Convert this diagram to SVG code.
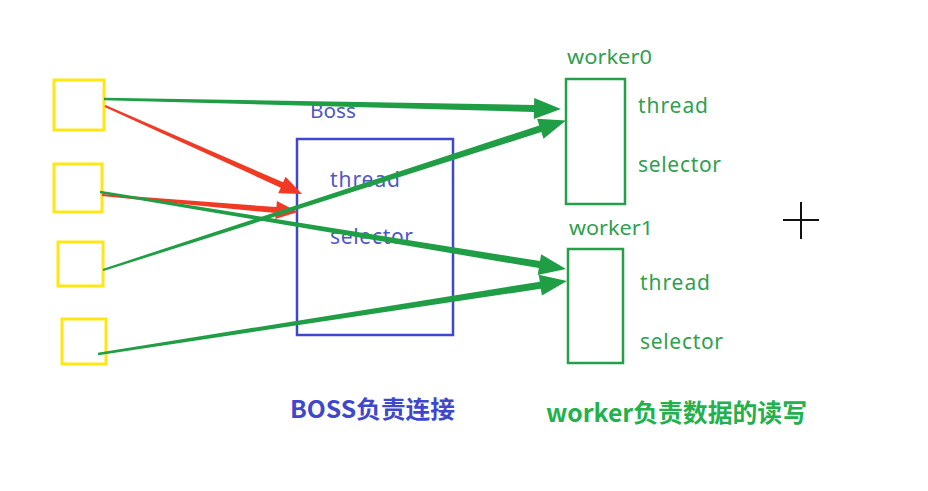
<svg xmlns="http://www.w3.org/2000/svg" width="928" height="491" viewBox="0 0 928 491">
<style>
.yel{fill:none;stroke:#ffe614;stroke-width:3}
.grnbox{fill:none;stroke:#23a048;stroke-width:2.5}
.bluebox{fill:none;stroke:#3f48cc;stroke-width:2.5}
.g{fill:#1f9e45}
.r{fill:#f03a24}
.lb{font-family:"Noto Sans","Noto Sans CJK SC",sans-serif;fill:#5056c4}
.lg{font-family:"Noto Sans","Noto Sans CJK SC",sans-serif;fill:#2f9f50}
.cap{font-family:"Noto Sans CJK SC","Noto Sans",sans-serif;font-weight:bold}
</style>
<rect width="928" height="491" fill="#ffffff"/>
<g id="src1"><rect class="yel" x="54" y="80" width="50" height="50"/></g>
<g id="src2"><rect class="yel" x="54" y="164" width="48" height="48"/></g>
<g id="src3"><rect class="yel" x="58" y="242" width="45" height="44"/></g>
<g id="src4"><rect class="yel" x="62" y="319" width="44" height="45"/></g>
<g id="boss">
<rect class="bluebox" x="297" y="139" width="156" height="196"/>
<text class="lb" x="310" y="118" font-size="20" textLength="46" lengthAdjust="spacingAndGlyphs">Boss</text>
<text class="lb" x="330" y="187" font-size="21" textLength="70" lengthAdjust="spacing">thread</text>
<text class="lb" x="330" y="244" font-size="21" textLength="83" lengthAdjust="spacing">selector</text>
</g>
<g id="worker0">
<rect class="grnbox" x="566" y="79" width="59" height="125"/>
<text class="lg" x="567" y="64" font-size="20" textLength="85" lengthAdjust="spacingAndGlyphs">worker0</text>
<text class="lg" x="638" y="113" font-size="21" textLength="70" lengthAdjust="spacing">thread</text>
<text class="lg" x="638" y="172" font-size="21" textLength="83" lengthAdjust="spacing">selector</text>
</g>
<g id="worker1">
<rect class="grnbox" x="568" y="249" width="55" height="114"/>
<text class="lg" x="569" y="235" font-size="20" textLength="84" lengthAdjust="spacingAndGlyphs">worker1</text>
<text class="lg" x="640" y="290" font-size="21" textLength="70" lengthAdjust="spacing">thread</text>
<text class="lg" x="640" y="349" font-size="21" textLength="83" lengthAdjust="spacing">selector</text>
</g>
<g id="connectors">
<polygon class="r" points="105.4,105.1 283.1,182.3 285.6,176.8 302,194 278.2,193.2 280.7,187.7 104.6,106.9"/>
<polygon class="r" points="102.1,194 276.4,207.1 276.9,201.1 298,212 275.3,219.1 275.8,213.1 101.9,196"/>
<polygon class="g" points="104,97.8 534.1,104.9 534.2,97.9 561,109 533.8,118.9 533.9,111.9 104,100.2"/>
<polygon class="g" points="102.6,268.9 539.2,125.5 537.1,118.8 566,120.5 543.5,138.8 541.4,132.1 103.4,271.1"/>
<polygon class="g" points="100.2,190.8 540,261.1 541.1,254.2 566,269 537.7,275 538.8,268.1 99.8,193.2"/>
<polygon class="g" points="97.8,352.8 539.8,281.7 538.7,274.8 567,281 541.9,295.6 540.8,288.7 98.2,355.2"/>
</g>
<g id="cursor" stroke="#111111" stroke-width="2">
<line x1="783" y1="220" x2="819" y2="220"/>
<line x1="801" y1="202" x2="801" y2="239"/>
</g>
<text class="cap" x="290" y="418" font-size="24" fill="#3f48cc" textLength="165" lengthAdjust="spacingAndGlyphs">BOSS负责连接</text>
<text class="cap" x="546" y="422" font-size="25" fill="#22b14c" textLength="261" lengthAdjust="spacingAndGlyphs">worker负责数据的读写</text>
</svg>
